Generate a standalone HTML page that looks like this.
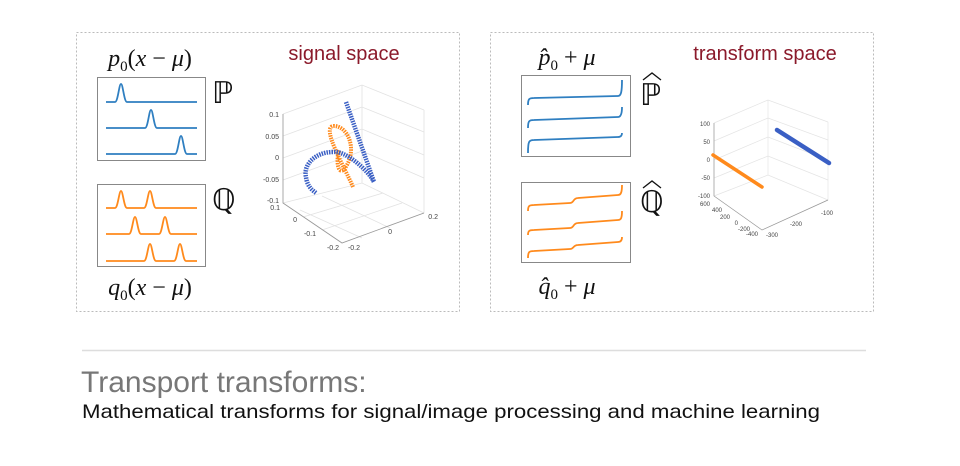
<!DOCTYPE html>
<html><head><meta charset="utf-8"><style>
body{margin:0;background:#fff;width:960px;height:461px;overflow:hidden}
</style></head><body>
<svg width="960" height="461" viewBox="0 0 960 461" xmlns="http://www.w3.org/2000/svg">
<rect x="76.5" y="32.5" width="383" height="279" fill="none" stroke="#bbb" stroke-dasharray="2 2"/>
<rect x="490.5" y="32.5" width="383" height="279" fill="none" stroke="#bbb" stroke-dasharray="2 2"/>
<g font-family="Liberation Serif, DejaVu Serif, serif" font-size="24" fill="#111">
<text x="150" y="66" text-anchor="middle"><tspan font-style="italic">p</tspan><tspan font-size="15" dy="5">0</tspan><tspan dy="-5">(</tspan><tspan font-style="italic">x</tspan> − <tspan font-style="italic">μ</tspan>)</text>
<text x="150" y="295" text-anchor="middle"><tspan font-style="italic">q</tspan><tspan font-size="15" dy="5">0</tspan><tspan dy="-5">(</tspan><tspan font-style="italic">x</tspan> − <tspan font-style="italic">μ</tspan>)</text>
<text x="567" y="65" text-anchor="middle"><tspan font-style="italic">p̂</tspan><tspan font-size="15" dy="5">0</tspan><tspan dy="-5"> + </tspan><tspan font-style="italic">μ</tspan></text>
<text x="567" y="294" text-anchor="middle"><tspan font-style="italic">q̂</tspan><tspan font-size="15" dy="5">0</tspan><tspan dy="-5"> + </tspan><tspan font-style="italic">μ</tspan></text>
</g>
<g font-family="DejaVu Sans, sans-serif" font-size="30" fill="#111">
<text x="212" y="103">ℙ</text><text x="212" y="210">ℚ</text>
<text x="640" y="105">ℙ</text><text x="640" y="212">ℚ</text>
</g>
<path d="M643 80 L652 73 L661 80 M643 188 L652 181 L661 188" fill="none" stroke="#111" stroke-width="1.3"/>
<g font-family="Liberation Sans, sans-serif" font-size="20" fill="#8b1a2b" text-anchor="middle">
<text x="344" y="60">signal space</text><text x="765" y="60">transform space</text>
</g>
<rect x="97.5" y="77.5" width="108" height="83" fill="none" stroke="#888"/>
<rect x="97.5" y="184.5" width="108" height="82" fill="none" stroke="#888"/>
<rect x="521.5" y="75.5" width="109" height="81" fill="none" stroke="#888"/>
<rect x="521.5" y="182.5" width="109" height="80" fill="none" stroke="#888"/>
<g fill="none" stroke="#2f7fc1" stroke-width="1.8">
<path d="M106 102 H115 C118 102 119 84 121 84 C123 84 124 102 127 102 H197"/>
<path d="M106 128 H145 C148 128 149 110 151 110 C153 110 154 128 157 128 H197"/>
<path d="M106 154 H175 C178 154 179 136 181 136 C183 136 184 154 187 154 H197"/>
<path d="M528 105 C528 99 529 98 534 98 L618 96 C621 96 622 92 622 80"/>
<path d="M528 128 C528 121 529 120 534 120 L618 117 C621 117 622 113 622 107"/>
<path d="M528 153 C528 141 529 140 534 140 L618 137 C621 137 622 135 622 133"/>
</g>
<g fill="none" stroke="#ff8a1c" stroke-width="1.8">
<path d="M106 208 H115 C118 208 119 191 121 191 C123 191 124 208 127 208 H144 C147 208 148 191 150 191 C152 191 153 208 156 208 H197"/>
<path d="M106 234 H129 C132 234 133 217 135 217 C137 217 138 234 141 234 H159 C162 234 163 217 165 217 C167 217 168 234 171 234 H197"/>
<path d="M106 261 H144 C147 261 148 244 150 244 C152 244 153 261 156 261 H174 C177 261 178 244 180 244 C182 244 183 261 186 261 H197"/>
<path d="M528 211 C528 206 529 205 534 205 L570 203 C574 203 573 198 578 198 L618 195 C621 195 622 192 622 185"/>
<path d="M528 235 C528 231 529 230 534 230 L570 228 C574 228 573 223 578 223 L618 220 C621 220 622 218 622 211"/>
<path d="M528 258 C528 252 529 251 534 251 L570 249 C574 249 573 245 578 245 L618 242 C621 242 622 240 622 237"/>
</g>
<g stroke="#e2e2e2" fill="none" stroke-width="0.8">
<path d="M283 114 L362 85 L424 110 M362 85 V183 M283 203 L362 183 L424 213 M424 110 V213 M283 114 V203 M342 243 L424 213 M283 203 L342 243"/>
<path d="M283 136 L362 107 L424 132 M283 158 L362 129 L424 155 M283 180 L362 151 L424 178"/>
<path d="M303 217 L383 193 M322 230 L402 203 M362 238 L300 210 M390 228 L322 196"/>
</g>
<g stroke="#999" fill="none" stroke-width="0.8"><path d="M283 114 V203 L342 243 L424 213"/></g>
<g font-family="Liberation Sans, sans-serif" font-size="7" fill="#444" text-anchor="end">
<text x="279" y="117">0.1</text><text x="279" y="139">0.05</text><text x="279" y="160">0</text><text x="279" y="182">-0.05</text><text x="279" y="203">-0.1</text>
<text x="280" y="210">0.1</text><text x="297" y="222">0</text><text x="316" y="236">-0.1</text><text x="339" y="250">-0.2</text>
<text x="360" y="250">-0.2</text><text x="392" y="234">0</text><text x="438" y="219">0.2</text>
</g>
<path d="M353 187 C345 168 320 126 334 126 C348 126 358 150 345 168 C338 178 335 158 340 150" fill="none" stroke="#ff8a1c" stroke-width="4" stroke-dasharray="1.5 1"/>
<path d="M346 102 L374 182 C368 170 345 150 333 152 C315 152 303 165 306 177 C307 186 312 190 316 193" fill="none" stroke="#3a5fc4" stroke-width="4.5" stroke-dasharray="1.5 1"/>
<g stroke="#e4e4e4" fill="none" stroke-width="0.7">
<path d="M714 123 L768 100 L828 122 M768 100 V175 M714 196 L768 175 L828 200 M828 122 V200 M714 123 V196 M762 230 L828 200 M714 196 L762 230"/>
<path d="M714 141 L768 118 L828 140 M714 160 L768 137 L828 160 M714 178 L768 156 L828 180"/>
</g>
<g stroke="#999" fill="none" stroke-width="0.7"><path d="M714 123 V196 L762 230 L828 200"/></g>
<g font-family="Liberation Sans, sans-serif" font-size="6" fill="#444">
<text x="710" y="126" text-anchor="end">100</text><text x="710" y="144" text-anchor="end">50</text><text x="710" y="162" text-anchor="end">0</text><text x="710" y="180" text-anchor="end">-50</text><text x="710" y="198" text-anchor="end">-100</text>
<text x="710" y="206" text-anchor="end">600</text><text x="722" y="212" text-anchor="end">400</text><text x="730" y="219" text-anchor="end">200</text><text x="738" y="225" text-anchor="end">0</text><text x="750" y="231" text-anchor="end">-200</text><text x="758" y="236" text-anchor="end">-400</text>
<text x="766" y="237">-300</text><text x="790" y="226">-200</text><text x="821" y="215">-100</text>
</g>
<line x1="777" y1="130" x2="829" y2="163" stroke="#3a5fc4" stroke-width="4.5" stroke-linecap="round"/>
<line x1="713" y1="155" x2="762" y2="187" stroke="#ff8a1c" stroke-width="3.5" stroke-linecap="round"/>
<line x1="82" y1="350.5" x2="866" y2="350.5" stroke="#ddd" stroke-width="1.5"/>
<text x="81" y="392" font-family="Liberation Sans, sans-serif" font-size="30" fill="#777">Transport transforms:</text>
<text x="82" y="418" font-family="Liberation Sans, sans-serif" font-size="19.5" fill="#111" textLength="738" lengthAdjust="spacingAndGlyphs">Mathematical transforms for signal/image processing and machine learning</text>
</svg>
</body></html>
